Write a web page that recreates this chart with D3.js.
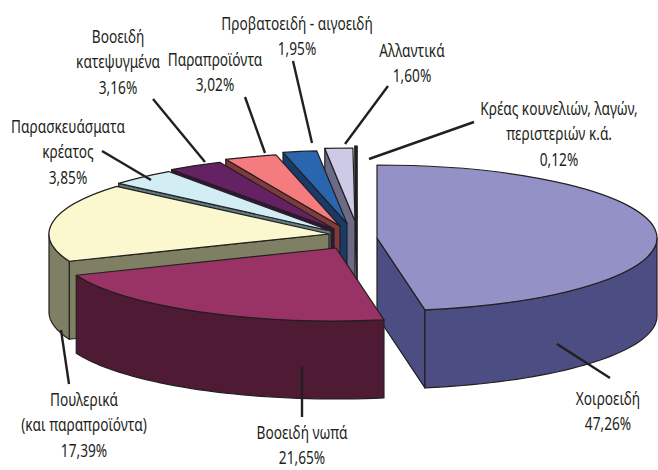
<!DOCTYPE html>
<html><head><meta charset="utf-8">
<script src="https://cdn.jsdelivr.net/npm/d3@7"></script>
<style>html,body{margin:0;background:#fff}svg{display:block}
text{font-family:"Noto Sans","Open Sans",sans-serif;font-size:18px;fill:#231f20}</style>
</head><body><svg id="c" width="658" height="470"></svg>
<script>
const categories=["Χοιροειδή","Βοοειδή νωπά","Πουλερικά (και παραπροϊόντα)","Παρασκευάσματα κρέατος","Βοοειδή κατεψυγμένα","Παραπροϊόντα","Προβατοειδή - αιγοειδή","Αλλαντικά","Κρέας κουνελιών, λαγών, περιστεριών κ.ά."];
const shares=[47.26,21.65,17.39,3.85,3.16,3.02,1.95,1.60,0.12];
const valueLabels=["47,26%","21,65%","17,39%","3,85%","3,16%","3,02%","1,95%","1,60%","0,12%"];
const topColors=["#9391c5","#993366","#fbf8cf","#d2edf4","#652263","#f47b7e","#2a66ae","#cccae4","#231f20"];
const wallColors=["#4c4d82","#4f1a34","#7e7f63","#5f7d80","#36133a","#803a3c","#1a3a6c","#6b6b88","#231f20"];
const apexX=[377,336,329,331,334,340,347,355,357];
const apexY=[238,248,234,231,229,226,223.5,221,219];
const drawOrder=[8,7,6,5,4,3,2,0,1];
const labelLines=[["Χοιροειδή","47,26%"],["Βοοειδή νωπά","21,65%"],["Πουλερικά","(και παραπροϊόντα)","17,39%"],["Παρασκευάσματα","κρέατος","3,85%"],["Βοοειδή","κατεψυγμένα","3,16%"],["Παραπροϊόντα","3,02%"],["Προβατοειδή - αιγοειδή","1,95%"],["Αλλαντικά","1,60%"],["Κρέας κουνελιών, λαγών,","περιστεριών κ.ά.","0,12%"]];
const labelX=[608,302,84,68,118,215,297,412,559];
const labelY=[405,439,406,133,43,66,30,57,115];
const leaders=[[[557,344],[610,378]],[[302,367],[302,417]],[[61,330],[69,384]],[[102,151],[151,180]],[[153,99],[205,162]],[[245,97],[265,153]],[[293,61],[312,143]],[[388,86],[345,144]],[[474,122],[369,159]]];

const rx=280,ry=73,depth=78,textScale=0.76;
const svg=d3.select("#c");
const arcs=d3.pie().sort(null).value(d=>d)(shares);
const pt=(i,a)=>[apexX[i]+rx*Math.sin(a),apexY[i]-ry*Math.cos(a)];
const arcGen=d3.arc().innerRadius(0).outerRadius(rx);
const line=d3.line();
const strokeC="#231f20";
drawOrder.forEach(i=>{
  const d=arcs[i],g=svg.append("g");
  const s=d.startAngle,e=d.endAngle,ax=apexX[i],ay=apexY[i];
  const wall=a=>[[ax,ay],pt(i,a),[pt(i,a)[0],pt(i,a)[1]+depth],[ax,ay+depth]];
  const style=p=>p.attr("fill",wallColors[i]).attr("stroke",strokeC).attr("stroke-width",1.2).attr("stroke-linejoin","round");
  if(Math.sin(s)<0) style(g.append("path").attr("d",line(wall(s))+"Z"));
  if(Math.sin(e)>0) style(g.append("path").attr("d",line(wall(e))+"Z"));
  const lo=Math.max(s,Math.PI/2),hi=Math.min(e,3*Math.PI/2);
  if(hi>lo){
    const as=d3.range(0,41).map(k=>lo+(hi-lo)*k/40);
    const rim=as.map(a=>pt(i,a));
    const low=as.slice().reverse().map(a=>{const p=pt(i,a);return [p[0],p[1]+depth];});
    style(g.append("path").attr("d",line(rim.concat(low))+"Z"));
  }
  g.append("path").attr("d",arcGen({startAngle:s,endAngle:e}))
   .attr("transform",`translate(${ax},${ay}) scale(1,${ry/rx})`)
   .attr("fill",topColors[i]).attr("stroke",strokeC).attr("stroke-width",1.2)
   .attr("vector-effect","non-scaling-stroke").attr("stroke-linejoin","round");
});
svg.append("g").selectAll("line").data(leaders).join("line")
 .attr("x1",d=>d[0][0]).attr("y1",d=>d[0][1]).attr("x2",d=>d[1][0]).attr("y2",d=>d[1][1])
 .attr("stroke",strokeC).attr("stroke-width",2.4);
labelLines.forEach((ls,i)=>{
  const t=svg.append("text").attr("text-anchor","middle")
    .attr("transform",`translate(${labelX[i]},${labelY[i]}) scale(${textScale},1)`);
  ls.forEach((l,k)=>t.append("tspan").attr("x",0).attr("dy",k?25.3:0).text(l));
});
</script></body></html>
